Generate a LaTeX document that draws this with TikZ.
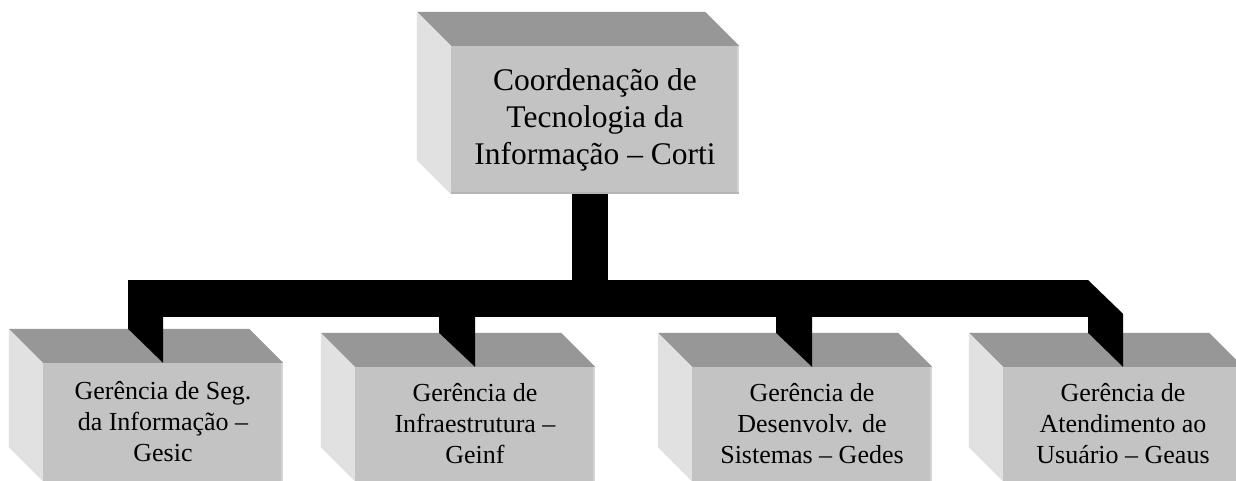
\documentclass[tikz,border=0pt]{standalone}
\usepackage{fontspec}
\setmainfont{Liberation Serif}
\usetikzlibrary{calc}
\definecolor{frontgray}{HTML}{C3C3C3}
\definecolor{topgray}{HTML}{979797}
\definecolor{sidegray}{HTML}{E1E1E1}
\definecolor{edgegray}{HTML}{D3D3D3}
\definecolor{lowgray}{HTML}{B5B5B5}
\tikzset{
  frontface/.style={fill=frontgray, draw=none, inner sep=0pt, align=center, anchor=center},
  bigtext/.style={font=\fontsize{31.5}{37}\selectfont},
  smalltext/.style={font=\fontsize{26}{31}\selectfont},
  topface/.style={fill=topgray},
  sideface/.style={fill=sidegray},
  rimline/.style={draw=edgegray, line width=2pt},
  link/.style={fill=black},
}
\newcommand{\cubefaces}[1]{%
  \path[topface] (#1.north west) -- ++(-34,-34) -- ($(#1.north east)+(-34,-34)$) -- (#1.north east) -- cycle;
  \path[sideface] (#1.north west) -- ++(-34,-34) -- ($(#1.south west)+(-34,-34)$) -- (#1.south west) -- cycle;
  \draw[rimline] ($(#1.north east)+(-1,0)$) -- ($(#1.south east)+(-1,0)$);
}
\begin{document}
\begin{tikzpicture}[x=1pt,y=-1pt]
\clip (0,0) rectangle (1236,480);
\fill[white] (0,0) rectangle (1236,480);
% front faces
\node[frontface, bigtext, minimum width=288pt, minimum height=148pt] (corti) at (595,120)
  {Coordenação de\\Tecnologia da\\Informação – Corti};
\node[frontface, smalltext, minimum width=240pt, minimum height=118pt] (gesic) at (163,422)
  {Gerência de Seg.\\da Informação –\\Gesic};
\node[frontface, smalltext, minimum width=240pt, minimum height=114pt] (geinf) at (475,424)
  {Gerência de\\Infraestrutura –\\Geinf};
\node[frontface, smalltext, minimum width=240pt, minimum height=114pt] (gedes) at (812,424)
  {Gerência de\\Desenvolv. de\\Sistemas – Gedes};
\node[frontface, smalltext, minimum width=240pt, minimum height=114pt] (geaus) at (1123,424)
  {Gerência de\\Atendimento ao\\Usuário – Geaus};
% 3D faces
\cubefaces{corti}
\cubefaces{gesic}
\cubefaces{geinf}
\cubefaces{gedes}
\cubefaces{geaus}
\draw[lowgray, line width=2pt] ($(corti.south west)+(0,-1)$) -- ($(corti.south east)+(0,-1)$);
% connectors
\coordinate (barL) at (128,280);
\coordinate (barR) at (1088,280);
\path[link] ($(corti.south)+(-23,0)$) rectangle ($(corti.south)+(13,86)$);
\path[link] (barL) -- (barR) -- ($(geaus.north)+(0,-53)$) -- (geaus.north)
  -- ($(geaus.north)+(-35,-34)$) -- ($(geaus.north)+(-35,-50)$)
  -- ($(gedes.north)+(0,-50)$) -- (gedes.north) -- ($(gedes.north)+(-36,-34)$) -- ($(gedes.north)+(-36,-50)$)
  -- ($(geinf.north)+(0,-50)$) -- (geinf.north) -- ($(geinf.north)+(-36,-34)$) -- ($(geinf.north)+(-36,-50)$)
  -- ($(gesic.north)+(0,-46)$) -- (gesic.north) -- ($(gesic.north)+(-35,-34)$) -- cycle;
\end{tikzpicture}
\end{document}
